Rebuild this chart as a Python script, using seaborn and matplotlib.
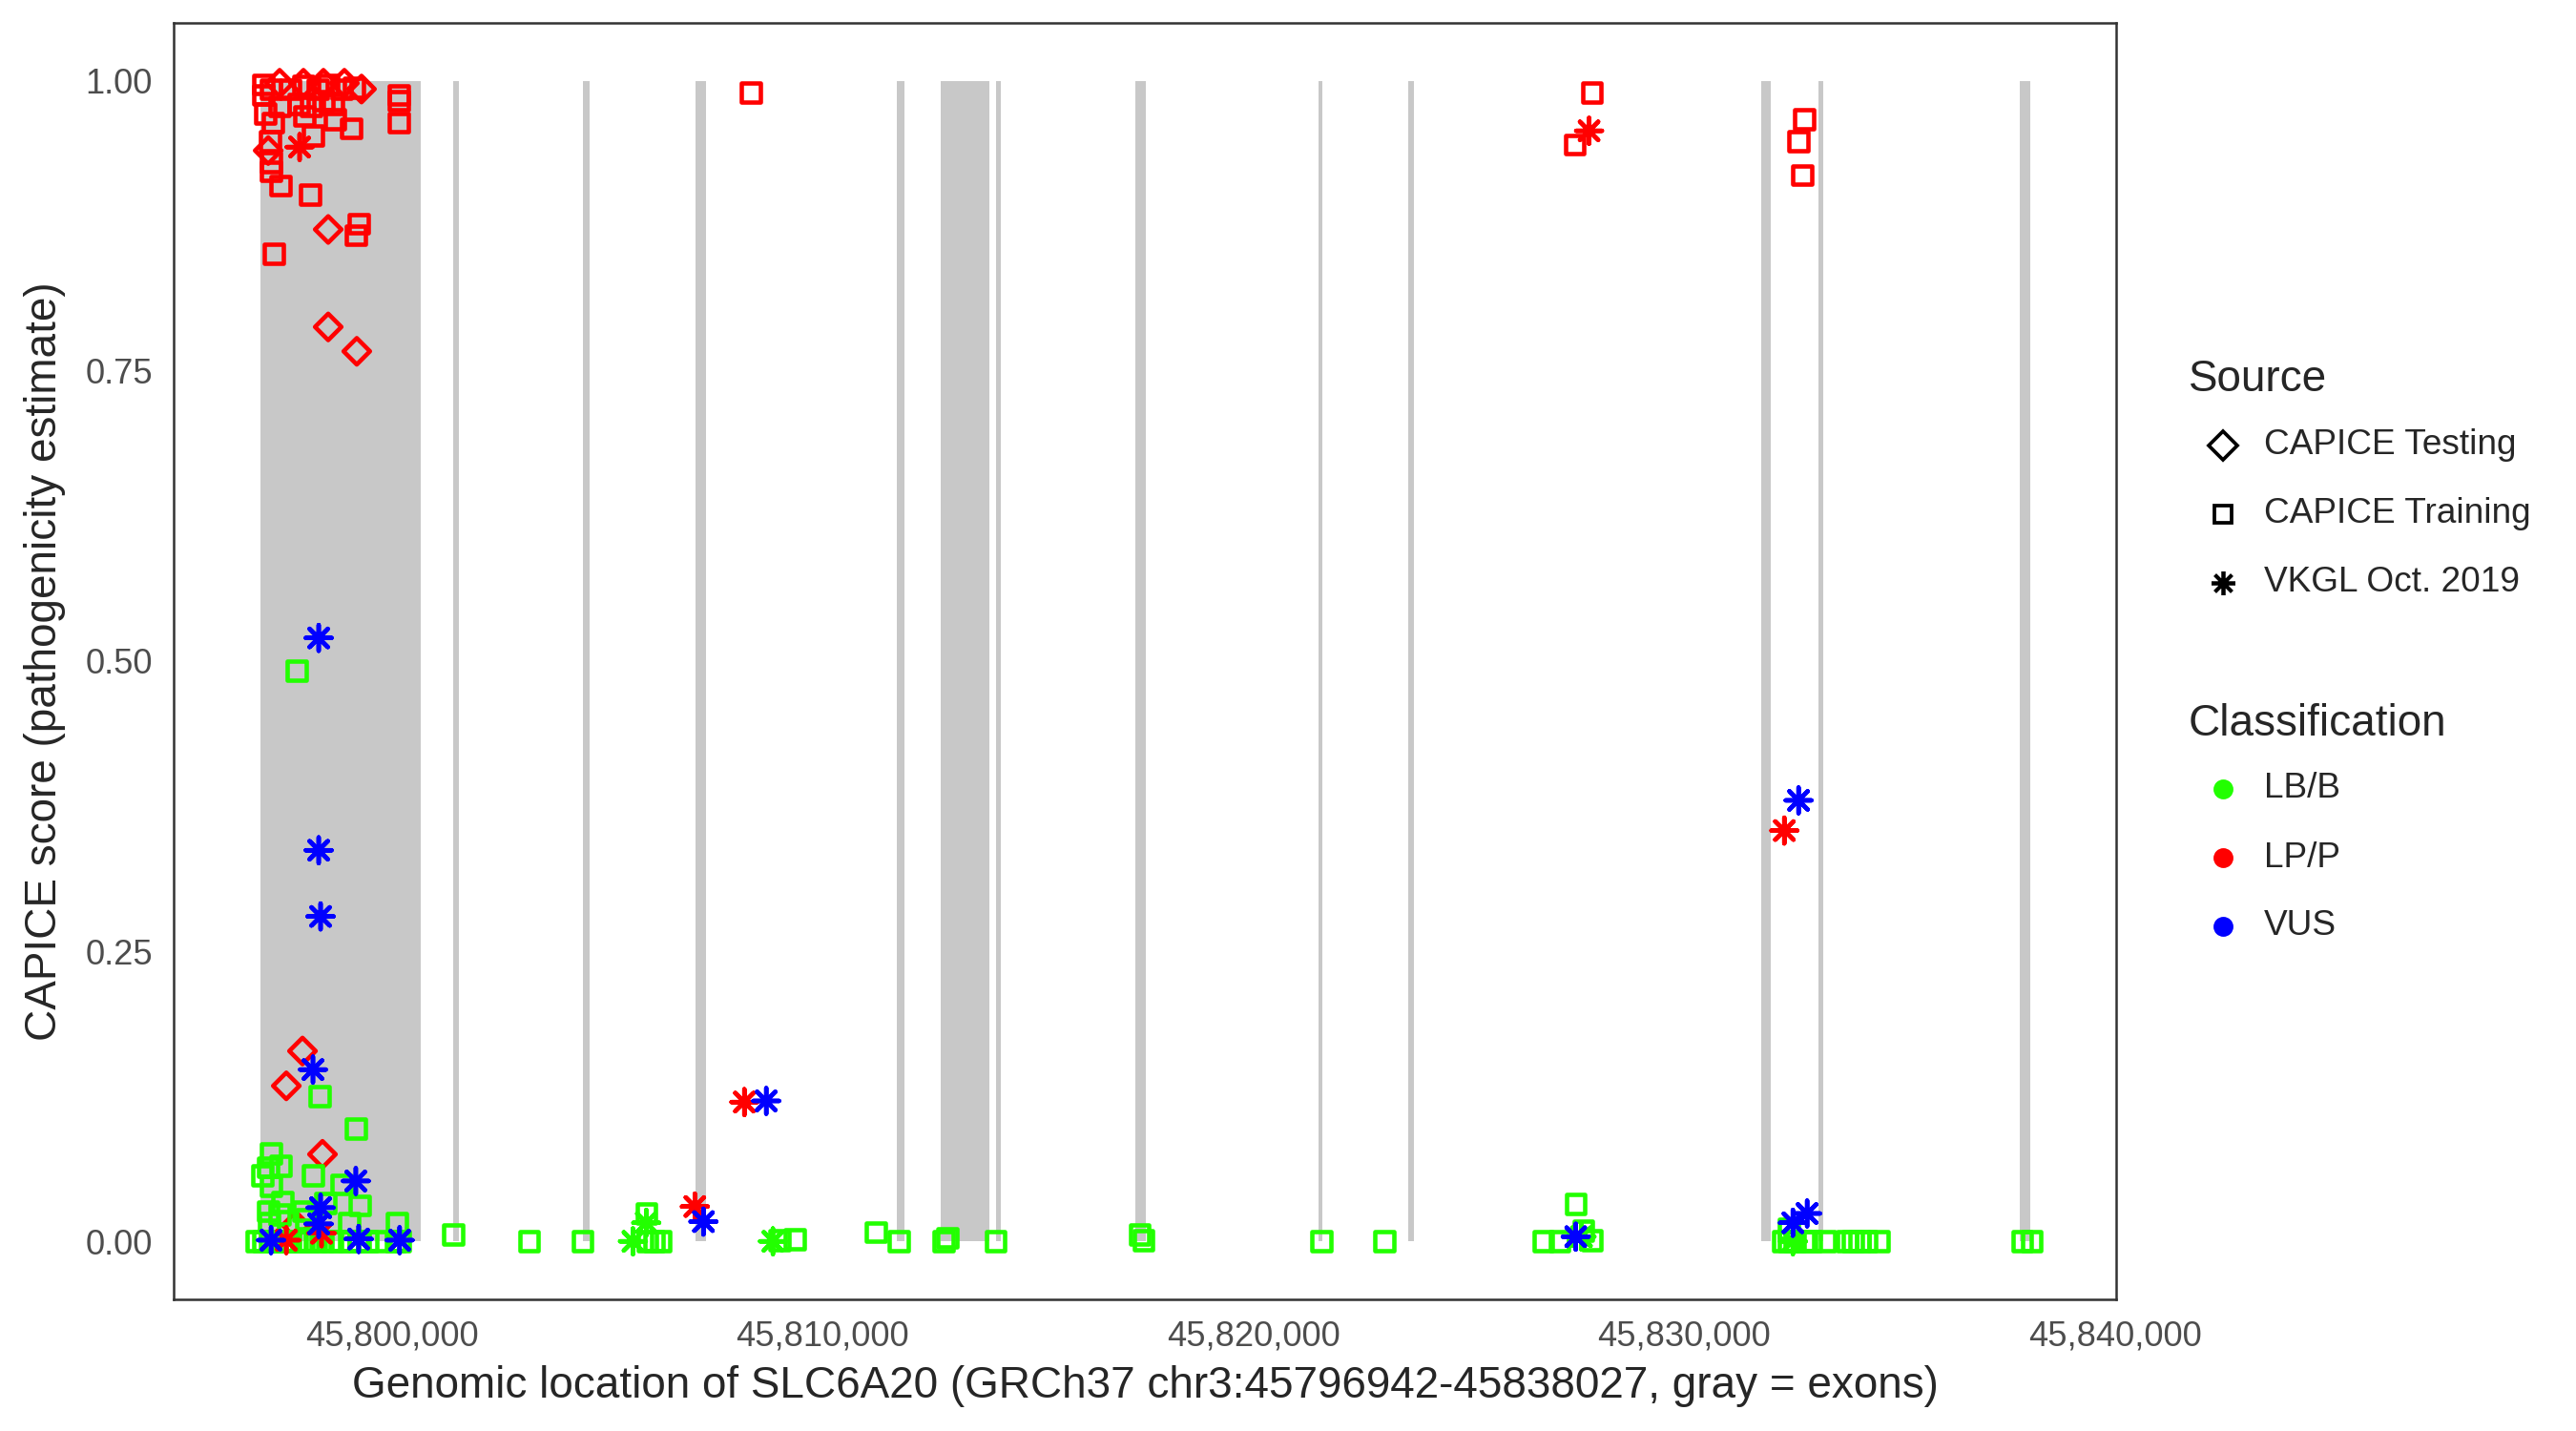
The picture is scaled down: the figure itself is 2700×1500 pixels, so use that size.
import pandas as pd
import seaborn as sns
import matplotlib.pyplot as plt
from matplotlib.lines import Line2D
from matplotlib.ticker import FuncFormatter

# exons of SLC6A20 (GRCh37), gray bands
exon_start = [45796942, 45801415, 45804444, 45807053, 45811718, 45812735, 45814018,
              45817268, 45821513, 45823591, 45831794, 45833121, 45837786]
exon_end = [45800663, 45801548, 45804599, 45807296, 45811895, 45813863, 45814129,
            45817511, 45821601, 45823724, 45832015, 45833231, 45838027]

# CAPICE Training, LP/P
train_lp_pos = [45797015, 45797015, 45797192, 45797059, 45797236, 45797170, 45797192, 45797192,
                45797413, 45798099, 45799226, 45799160, 45797258, 45800155, 45800155, 45800155,
                45799049, 45798165, 45798673, 45797966, 45797391, 45797634, 45797944, 45798275,
                45798519, 45798828, 45798408, 45798121, 45797833, 45798629, 45799116,
                45808335, 45827461, 45827859, 45832789, 45832656, 45832745]
train_lp_score = [0.997, 0.988, 0.993, 0.972, 0.964, 0.948, 0.930, 0.922,
                  0.910, 0.902, 0.877, 0.867, 0.851, 0.988, 0.983, 0.964,
                  0.959, 0.953, 0.967, 0.970, 0.978, 0.993, 0.996, 0.993,
                  0.997, 0.993, 0.983, 0.978, 0.980, 0.980, 0.994,
                  0.990, 0.945, 0.990, 0.967, 0.948, 0.919]

# CAPICE Training, LB/B
train_lb_pos = [45798320, 45799160, 45797192, 45797126, 45797413, 45796993, 45797192, 45798165,
                45798828, 45797457, 45797126, 45798452, 45799248, 45797944, 45797391, 45799005,
                45800111, 45797148, 45798010, 45797789,
                45796850, 45797010, 45797160, 45797290, 45797470, 45797580, 45797760, 45797910,
                45798060, 45798230, 45798390, 45798610, 45798790, 45799010, 45799220, 45799430,
                45799690, 45800080, 45800180,
                45801415, 45803184, 45804422, 45805903, 45805925, 45806080, 45806235, 45808999,
                45809353, 45811232, 45811763, 45812802, 45812890, 45814018, 45817356, 45817445,
                45821579, 45823039, 45826731, 45827107, 45827483, 45827660, 45827859,
                45832303, 45832436, 45832568, 45832789, 45832944, 45833276, 45833784, 45833917,
                45834072, 45834226, 45834513, 45832436, 45837852, 45838073]
train_lb_score = [0.125, 0.097, 0.076, 0.064, 0.065, 0.057, 0.048, 0.057,
                  0.049, 0.034, 0.026, 0.033, 0.031, 0.026, 0.023, 0.016,
                  0.016, 0.016, 0.019, 0.492,
                  0.0, 0.0, 0.0, 0.0, 0.0, 0.0, 0.0, 0.0,
                  0.0, 0.0, 0.0, 0.0, 0.0, 0.0, 0.0, 0.0,
                  0.0, 0.0, 0.0,
                  0.006, 0.0, 0.0, 0.024, 0.0, 0.0, 0.0, 0.001,
                  0.002, 0.008, 0.0, 0.0, 0.003, 0.0, 0.006, 0.001,
                  0.0, 0.0, 0.0, 0.0, 0.032, 0.009, 0.001,
                  0.0, 0.0, 0.0, 0.0, 0.0, 0.0, 0.0, 0.0,
                  0.0, 0.0, 0.0, 0.011, 0.0, 0.0]

# CAPICE Testing, LP/P
test_lp_pos = [45797126, 45798519, 45798519, 45799182, 45799292, 45797391, 45798894, 45797944,
               45798408, 45797922, 45797546, 45798386, 45797767]
test_lp_score = [0.940, 0.872, 0.788, 0.767, 0.993, 0.998, 0.998, 0.998,
                 0.998, 0.164, 0.134, 0.075, 0.014]

# VKGL Oct. 2019
vkgl_lp_pos = [45797855, 45797546, 45798364, 45807031, 45808181, 45827792, 45832325]
vkgl_lp_score = [0.943, 0.001, 0.007, 0.030, 0.120, 0.957, 0.354]
vkgl_vus_pos = [45798298, 45798298, 45798342, 45798165, 45799160, 45798342, 45798298, 45797192,
                45799226, 45800177, 45807230, 45808689, 45827483, 45832524, 45832855, 45832656]
vkgl_vus_score = [0.520, 0.337, 0.280, 0.148, 0.052, 0.029, 0.015, 0.001,
                  0.002, 0.001, 0.017, 0.121, 0.004, 0.016, 0.024, 0.380]
vkgl_lb_pos = [45805594, 45805903, 45808844, 45827615, 45832524]
vkgl_lb_score = [0.0, 0.016, 0.0, 0.004, 0.0]


def frame(pos, score, source, cls):
    return pd.DataFrame({"pos": pos, "score": score, "Source": source, "Classification": cls})


df = pd.concat([
    frame(test_lp_pos, test_lp_score, "CAPICE Testing", "LP/P"),
    frame(train_lb_pos, train_lb_score, "CAPICE Training", "LB/B"),
    frame(train_lp_pos, train_lp_score, "CAPICE Training", "LP/P"),
    frame(vkgl_lb_pos, vkgl_lb_score, "VKGL Oct. 2019", "LB/B"),
    frame(vkgl_lp_pos, vkgl_lp_score, "VKGL Oct. 2019", "LP/P"),
    frame(vkgl_vus_pos, vkgl_vus_score, "VKGL Oct. 2019", "VUS"),
], ignore_index=True)

palette = {"LB/B": "#22FF00", "LP/P": "#FF0000", "VUS": "#0000FF"}
shapes = {"CAPICE Testing": "D", "CAPICE Training": "s", "VKGL Oct. 2019": (8, 2, 0)}
sizes = {"CAPICE Testing": 22, "CAPICE Training": 22, "VKGL Oct. 2019": 42}

sns.set_style("white")
plt.rcParams["font.family"] = ["Liberation Sans", "DejaVu Sans"]

fig = plt.figure(figsize=(9, 5), dpi=300)
ax = fig.add_axes([0.0674, 0.092, 0.7541, 0.892])

# exons as gray bands from 0 to 1
widths = [e - s for s, e in zip(exon_start, exon_end)]
ax.bar(exon_start, [1] * len(exon_start), width=widths, bottom=0, align="edge",
       color="#C8C8C8", linewidth=0, zorder=1)

# points, one layer per source so each gets its own open shape
for src in ["CAPICE Testing", "CAPICE Training", "VKGL Oct. 2019"]:
    sub = df[df["Source"] == src]
    sns.scatterplot(data=sub, x="pos", y="score", hue="Classification", palette=palette,
                    marker=shapes[src], s=sizes[src], linewidth=1.1, legend=False,
                    ax=ax, zorder=3)
    coll = ax.collections[-1]
    fc = coll.get_facecolors()
    coll.set_edgecolors(fc)
    coll.set_facecolors("none")

ax.set_xlim(45794930, 45840030)
ax.set_ylim(-0.05, 1.05)
ax.set_xticks([45800000, 45810000, 45820000, 45830000, 45840000])
ax.set_yticks([0, 0.25, 0.5, 0.75, 1.0])
ax.xaxis.set_major_formatter(FuncFormatter(lambda v, p: f"{int(v):,}"))
ax.yaxis.set_major_formatter(FuncFormatter(lambda v, p: f"{v:.2f}"))
ax.tick_params(axis="both", length=2.75, width=0.6, color="#333333",
               labelsize=8.7, labelcolor="#4D4D4D", pad=2.5)
for sp in ax.spines.values():
    sp.set_color("#333333")
    sp.set_linewidth(0.6)
ax.grid(False)
ax.set_xlabel("Genomic location of SLC6A20 (GRCh37 chr3:45796942-45838027, gray = exons)",
              fontsize=11, labelpad=3)
ax.set_ylabel("CAPICE score (pathogenicity estimate)", fontsize=11, labelpad=5)

# legends drawn in figure coordinates
def fx(px):
    return px / 2700


def fy(py):
    return 1 - py / 1500


fig.text(fx(2294), fy(398), "Source", fontsize=11, va="center", ha="left")
src_rows = [("CAPICE Testing", "D", 467), ("CAPICE Training", "s", 539), ("VKGL Oct. 2019", (8, 2, 0), 611)]
for lab, mk, y in src_rows:
    ms = 5.2 if mk == "D" else (4.3 if mk == "s" else 6)
    fig.add_artist(Line2D([fx(2330)], [fy(y)], marker=mk, markersize=ms, markerfacecolor="none",
                          markeredgecolor="black", markeredgewidth=0.9, linestyle="none",
                          transform=fig.transFigure))
    fig.text(fx(2373), fy(y), lab, fontsize=8.9, va="center", ha="left")

fig.text(fx(2294), fy(759), "Classification", fontsize=11, va="center", ha="left")
cls_rows = [("LB/B", 827), ("LP/P", 899), ("VUS", 971)]
for lab, y in cls_rows:
    fig.add_artist(Line2D([fx(2330)], [fy(y)], marker="o", markersize=4, color=palette[lab],
                          linestyle="none", transform=fig.transFigure))
    fig.text(fx(2373), fy(y), lab, fontsize=8.9, va="center", ha="left")

fig.savefig("out.png", dpi=300, facecolor="white")
